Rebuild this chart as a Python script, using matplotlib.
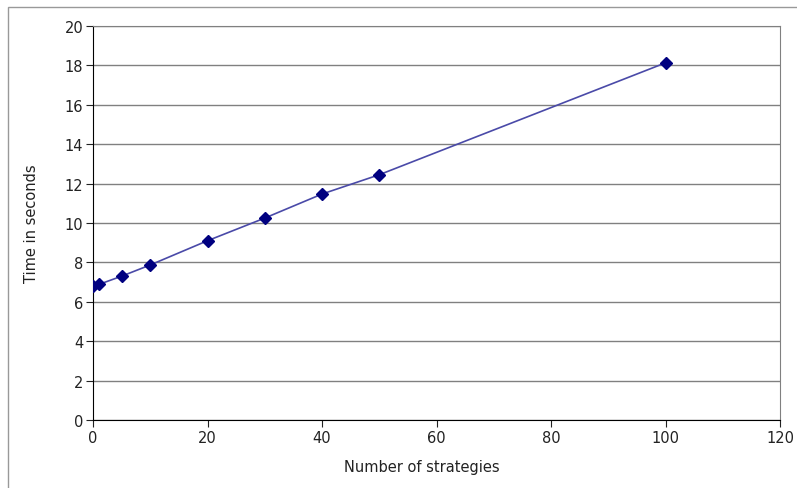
import matplotlib
matplotlib.use("Agg")
import matplotlib.pyplot as plt
from matplotlib.patches import Rectangle

strategies = [0, 1, 5, 10, 20, 30, 40, 50, 100]
seconds = [6.82, 6.88, 7.3, 7.87, 9.1, 10.25, 11.47, 12.45, 18.13]
xticks = [0, 20, 40, 60, 80, 100, 120]
yticks = [0, 2, 4, 6, 8, 10, 12, 14, 16, 18, 20]

W, H = 797, 489
fig = plt.figure(figsize=(W/100, H/100), dpi=100)
ax = fig.add_axes([93/W, 1-421/H, (780-93)/W, (421-27)/H])

fig.patches.append(Rectangle((8/W, -0.1), 1.0, 1-8/H+0.1, transform=fig.transFigure,
                             fill=False, edgecolor='#999999', linewidth=1))

ax.plot(strategies, seconds, color='#4a4aa8', linewidth=1.2, marker='D',
        markersize=6.5, markerfacecolor='#000080', markeredgecolor='#000080', zorder=3)

ax.set_xlim(0, 120)
ax.set_ylim(0, 20)
ax.set_xticks(xticks)
ax.set_yticks(yticks)
ax.yaxis.grid(True, color='#808080', linewidth=1)
ax.set_axisbelow(True)
for s in ['top', 'right']:
    ax.spines[s].set_color('#808080')
for s in ['left', 'bottom']:
    ax.spines[s].set_color('black')
ax.tick_params(direction='out', length=5, labelsize=10.5, colors='#222222', pad=2)
ax.set_xlabel('Number of strategies', fontsize=10.5, color='#222222')
ax.set_ylabel('Time in seconds', fontsize=10.5, color='#222222')
ax.xaxis.set_label_coords(0.479, -0.119)
ax.yaxis.set_label_coords(-0.089, 0.5)
ax.xaxis.label.set_va('center')
ax.yaxis.label.set_va('center')

fig.savefig('out.png', dpi=100)
